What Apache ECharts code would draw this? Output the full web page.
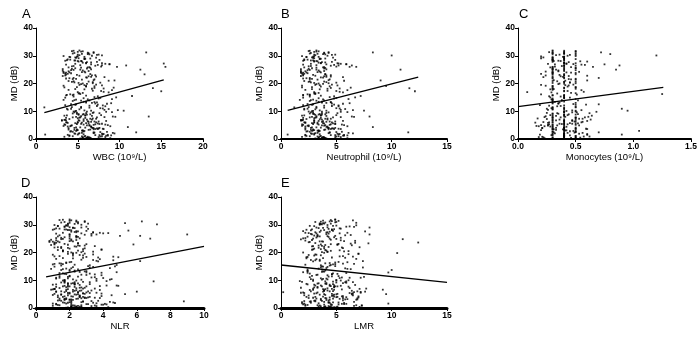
<!DOCTYPE html>
<html>
<head>
<meta charset="utf-8">
<script src="https://cdn.jsdelivr.net/npm/echarts@6/dist/echarts.min.js"></script>
<style>
  html, body { margin: 0; padding: 0; background: #fff; }
  #chart { width: 700px; height: 339px; }
</style>
</head>
<body>
<div id="chart"></div>
<script>
// MD (dB) per patient, shared by all five panels
var md = [
  2.1, 25.4, 7.8, 13.2, 29.6, 4.5, 18.7, 0.9, 22.3, 10.6, 5.7, 27.9, 15.1, 3.3, 31.2, 8.4, 20.5, 1.6, 24.8, 12.0,
  6.2, 28.3, 0.4, 16.9, 9.3, 23.6, 3.9, 30.1, 11.4, 19.8, 2.7, 26.5, 7.1, 14.3, 21.7, 5.0, 29.0, 0.2, 17.6, 9.9,
  25.0, 4.1, 12.8, 31.7, 6.6, 22.9, 1.3, 27.2, 8.8, 15.9, 3.6, 24.1, 10.2, 19.1, 5.4, 28.8, 0.7, 13.7, 26.0, 7.4,
  20.2, 2.4, 30.6, 11.0, 6.9, 23.3, 4.8, 16.2, 29.3, 1.9, 9.6, 25.8, 3.0, 18.3, 12.5, 27.6, 5.9, 21.1, 0.5, 14.8,
  8.1, 31.0, 2.9, 24.5, 10.9, 6.3, 28.1, 17.2, 4.3, 22.0, 1.1, 13.0, 26.9, 7.6, 19.5, 3.4, 30.4, 9.1, 15.5, 5.2,
  27.4, 0.8, 21.4, 11.8, 4.6, 25.2, 8.6, 16.6, 2.2, 29.8, 6.0, 23.0, 13.9, 1.5, 20.9, 9.4, 26.3, 3.8, 18.0, 7.0,
  31.5, 5.5, 14.1, 24.0, 0.3, 10.4, 28.6, 6.8, 22.6, 2.6, 17.9, 4.0, 26.7, 12.2, 8.3, 30.8, 1.8, 19.3, 5.8, 25.6,
  9.0, 3.1, 27.0, 15.7, 7.3, 21.9, 0.6, 12.9, 29.1, 4.9, 23.8, 10.0, 1.4, 18.9, 6.5, 28.4, 3.5, 16.0, 24.3, 8.0,
  2.0, 30.3, 11.6, 5.3, 26.2, 7.9, 20.0, 0.1, 14.6, 22.8, 4.4, 29.5, 9.7, 17.0, 3.2, 25.9, 6.7, 13.4, 1.0, 27.8,
  19.9, 5.1, 23.5, 8.9, 31.9, 2.5, 15.3, 10.8, 28.0, 4.2, 21.2, 0.0, 12.6, 26.4, 6.1, 18.5, 3.7, 24.7, 9.2, 30.0,
  7.5, 1.2, 22.1, 14.0, 4.7, 27.3, 11.2, 2.8, 20.7, 8.5, 31.3, 5.6, 16.4, 0.3, 25.1, 10.3, 3.9, 29.2, 6.4, 19.0,
  13.5, 26.8, 1.7, 9.8, 23.1, 5.0, 30.7, 7.2, 17.4, 2.3, 24.6, 12.3, 0.9, 28.9, 4.0, 21.6, 8.7, 15.0, 6.9, 27.5,
  3.0, 22.5, 10.1, 29.9, 1.6, 18.2, 6.2, 25.3, 11.9, 4.5, 31.1, 8.2, 20.4, 2.1, 14.4, 26.1, 5.7, 23.9, 0.6, 16.8,
  9.5, 28.2, 3.3, 21.0, 7.7, 13.1, 24.9, 1.9, 30.5, 6.6, 19.6, 4.1, 27.1, 11.5, 2.7, 22.4, 8.0, 17.7, 5.3, 25.7,
  0.4, 12.1, 29.4, 6.0, 20.1, 3.6, 26.6, 9.3, 15.8, 1.3, 23.4, 7.8, 31.6, 4.8, 18.6, 10.7, 2.4, 28.5, 5.5, 14.2,
  4.2, 26.9, 1.1, 17.3, 8.6, 23.2, 0.5, 29.7, 12.7, 5.9, 21.5, 3.4, 27.7, 9.6, 15.4, 1.9, 24.2, 7.0, 31.4, 10.5,
  2.6, 19.4, 6.3, 28.7, 0.8, 13.8, 25.5, 4.6, 22.2, 8.4, 30.2, 1.4, 16.1, 7.3, 26.0, 3.1, 20.6, 11.1, 5.1, 28.1,
  0.2, 23.7, 9.0, 14.9, 3.8, 27.3, 6.5, 20.8, 1.7, 30.9, 10.9, 5.4, 25.0, 2.9, 18.1, 8.1, 29.6, 0.9, 13.3, 22.7,
  7.6, 31.8, 4.0, 16.5, 1.2, 24.4, 11.3, 6.0, 28.3, 2.2, 19.2, 9.9, 26.5, 3.5, 14.7, 0.4, 21.8, 5.2, 30.4, 12.4,
  1.5, 25.8, 8.8, 18.4, 4.9, 29.0, 2.0, 22.9, 10.2, 6.8, 27.1, 0.7, 15.6, 3.6, 24.0, 7.8, 31.0, 1.0, 20.3, 5.6
]

// WBC (10^9/L)
var wbc = [
  5.2, 6.1, 4.4, 7.3, 5.8, 6.6, 4.9, 5.5, 8.2, 3.8, 6.0, 5.1, 7.0, 4.6, 13.2, 5.9, 6.8, 1.1, 4.2, 6.4,
  6.3, 4.7, 5.6, 5.0, 7.6, 3.5, 6.9, 7.9, 1.0, 5.4, 4.1, 10.8, 5.7, 6.2, 4.8, 8.6, 6.5, 5.3, 9.1, 4.5,
  12.5, 5.9, 7.1, 4.3, 5.2, 6.7, 4.0, 15.3, 6.1, 3.7, 7.4, 5.5, 10.5, 6.0, 4.9, 5.8, 8.3, 4.4, 15.5, 6.8,
  5.1, 12.0, 6.2, 8.0, 3.4, 13.0, 6.4, 5.3, 7.2, 4.7, 6.9, 3.9, 5.6, 14.0, 4.8, 6.6, 5.0, 9.4, 6.1, 7.7,
  13.5, 4.6, 5.8, 6.3, 4.2, 7.0, 5.4, 15.0, 11.0, 4.5, 5.9, 6.7, 8.8, 3.6, 5.2, 6.5, 7.5, 4.9, 11.5, 5.7,
  6.0, 3.4, 5.5, 8.3, 4.1, 3.2, 7.8, 5.6, 9.2, 5.0, 3.6, 7.1, 6.4, 8.6, 3.9, 6.8, 4.5, 7.5, 4.7, 6.1,
  5.4, 7.9, 3.3, 5.9, 6.0, 9.8, 4.1, 3.1, 6.3, 8.5, 5.8, 4.6, 7.4, 3.5, 6.7, 4.4, 8.1, 7.9, 3.8, 6.5,
  5.7, 4.9, 8.8, 3.6, 7.2, 4.0, 6.4, 9.0, 5.1, 6.1, 3.3, 4.7, 7.6, 6.0, 8.4, 3.7, 6.9, 4.5, 5.8, 9.5,
  4.6, 7.3, 5.4, 3.4, 4.3, 8.2, 5.6, 3.9, 7.5, 5.2, 6.6, 4.1, 9.1, 8.1, 5.0, 6.4, 3.6, 5.7, 7.9, 7.3,
  6.1, 3.5, 3.8, 6.5, 5.2, 7.7, 4.5, 8.7, 5.5, 4.8, 6.9, 3.2, 4.2, 7.1, 5.0, 9.3, 8.0, 5.6, 4.4, 6.7,
  5.0, 8.4, 6.1, 4.6, 3.3, 7.9, 5.4, 4.2, 6.3, 3.7, 6.9, 7.4, 5.1, 8.9, 6.6, 5.8, 3.9, 4.8, 6.2, 7.0,
  6.0, 3.6, 5.7, 8.4, 4.9, 6.4, 5.5, 4.0, 6.8, 7.0, 3.2, 4.7, 7.7, 5.9, 7.6, 4.4, 5.1, 9.6, 3.5, 5.6,
  5.5, 7.2, 4.8, 3.3, 5.0, 8.1, 6.6, 4.3, 7.3, 3.8, 6.2, 5.4, 4.6, 6.9, 9.1, 7.8, 4.7, 3.6, 5.6, 8.7,
  4.9, 3.5, 6.3, 8.7, 5.2, 6.0, 4.5, 7.9, 6.4, 3.1, 7.2, 6.7, 8.3, 4.3, 5.7, 6.6, 4.8, 3.9, 7.1, 5.4,
  6.2, 8.0, 4.7, 3.7, 6.8, 7.1, 5.3, 6.0, 4.4, 9.0, 6.5, 7.3, 5.6, 4.2, 3.4, 5.2, 6.9, 7.6, 5.4, 4.8,
  5.3, 6.6, 4.0, 7.8, 5.9, 3.6, 6.3, 4.9, 8.5, 5.5, 7.0, 3.9, 6.1, 4.6, 7.4, 5.1, 3.3, 6.7, 5.0, 8.2,
  4.4, 5.8, 7.5, 3.8, 6.2, 5.4, 4.7, 8.9, 6.0, 3.4, 5.2, 7.1, 4.1, 6.5, 9.7, 5.6, 4.3, 7.7, 6.9, 5.0,
  6.6, 4.2, 5.1, 3.5, 7.3, 6.0, 5.7, 4.5, 8.0, 6.3, 3.7, 7.6, 5.3, 4.8, 6.7, 9.2, 4.0, 5.8, 7.0, 3.2,
  5.9, 4.5, 6.8, 5.2, 8.6, 3.9, 6.4, 7.2, 4.6, 5.5, 3.3, 6.1, 7.9, 4.9, 5.7, 6.5, 3.6, 8.3, 5.0, 7.4,
  3.8, 6.2, 5.6, 7.0, 4.3, 5.8, 9.4, 3.5, 6.6, 5.1, 4.7, 7.5, 6.0, 8.1, 4.0, 5.3, 6.9, 4.4, 7.7, 6.3
]

// Neutrophil (10^9/L)
var neut = [
  3.1, 3.9, 2.6, 4.5, 3.4, 4.2, 2.8, 3.3, 5.6, 2.1, 3.8, 3.0, 4.4, 2.7, 8.3, 3.6, 4.1, 0.6, 2.4, 3.9,
  3.7, 2.9, 3.4, 3.0, 5.1, 1.9, 4.3, 10.0, 1.2, 3.2, 2.3, 6.4, 3.5, 3.8, 2.8, 5.7, 4.0, 3.1, 6.0, 2.5,
  10.8, 3.6, 4.6, 2.5, 3.0, 4.1, 2.2, 5.2, 3.7, 2.0, 4.8, 3.3, 7.5, 9.5, 2.9, 3.5, 5.4, 2.6, 6.2, 4.2,
  3.0, 11.5, 3.8, 5.3, 1.8, 4.0, 3.9, 3.1, 4.7, 2.8, 4.3, 2.1, 3.4, 11.6, 2.9, 4.0, 3.0, 9.0, 3.7, 5.0,
  8.0, 2.7, 3.5, 3.9, 2.4, 4.4, 3.2, 12.1, 8.3, 2.6, 3.6, 4.1, 5.9, 2.0, 3.1, 4.0, 4.9, 2.9, 7.2, 3.4,
  3.6, 1.9, 3.3, 5.2, 2.5, 1.8, 5.0, 3.4, 6.1, 3.0, 2.2, 4.5, 3.9, 5.7, 2.1, 4.1, 2.7, 4.6, 2.8, 3.7,
  3.2, 4.9, 1.7, 3.6, 3.7, 6.5, 2.4, 1.9, 3.9, 5.5, 3.5, 2.7, 4.8, 2.0, 4.1, 2.6, 5.3, 5.1, 2.2, 4.0,
  3.5, 2.9, 5.9, 2.0, 4.5, 2.3, 3.9, 6.2, 3.0, 3.7, 1.8, 2.8, 4.9, 3.6, 5.6, 2.1, 4.3, 2.6, 3.5, 6.6,
  2.7, 4.6, 3.2, 1.9, 2.5, 5.4, 3.4, 2.2, 4.8, 3.1, 4.1, 2.3, 6.0, 5.3, 3.0, 3.9, 1.9, 3.4, 5.2, 4.6,
  3.8, 2.0, 2.1, 4.0, 3.2, 5.0, 2.6, 5.8, 3.3, 2.8, 4.3, 1.7, 2.4, 4.5, 3.0, 6.3, 5.2, 3.4, 2.6, 4.2,
  3.0, 5.6, 3.8, 2.7, 1.9, 5.1, 3.2, 2.4, 3.9, 2.1, 4.3, 4.7, 3.0, 6.0, 4.1, 3.5, 2.2, 2.9, 3.8, 4.4,
  3.7, 2.0, 3.5, 5.4, 2.9, 4.0, 3.3, 2.3, 4.2, 4.4, 1.8, 2.8, 5.0, 3.6, 4.9, 2.6, 3.1, 6.7, 2.0, 3.4,
  3.3, 4.5, 2.9, 1.9, 3.0, 5.3, 4.1, 2.5, 4.6, 2.2, 3.9, 3.2, 2.7, 4.3, 6.1, 5.0, 2.8, 2.0, 3.4, 5.6,
  2.9, 2.0, 3.9, 5.7, 3.1, 3.7, 2.6, 5.1, 4.0, 1.8, 4.6, 4.2, 5.4, 2.5, 3.4, 4.1, 2.8, 2.2, 4.5, 3.2,
  3.8, 5.2, 2.8, 2.1, 4.3, 4.5, 3.2, 3.7, 2.6, 6.0, 4.0, 4.7, 3.4, 2.4, 1.9, 3.1, 4.4, 4.9, 3.3, 2.9,
  3.2, 4.1, 2.3, 5.0, 3.6, 2.0, 3.9, 2.9, 5.6, 3.3, 4.4, 2.2, 3.7, 2.7, 4.8, 3.0, 1.8, 4.2, 3.0, 5.4,
  2.6, 3.5, 4.9, 2.1, 3.8, 3.2, 2.8, 6.0, 3.6, 1.9, 3.1, 4.5, 2.4, 4.0, 6.8, 3.4, 2.5, 5.0, 4.4, 3.0,
  4.1, 2.4, 3.0, 2.0, 4.7, 3.6, 3.4, 2.6, 5.2, 3.9, 2.1, 4.9, 3.2, 2.8, 4.2, 6.4, 2.3, 3.5, 4.5, 1.8,
  3.6, 2.6, 4.3, 3.1, 5.7, 2.2, 3.9, 4.6, 2.7, 3.3, 1.9, 3.7, 5.2, 2.9, 3.4, 4.0, 2.0, 5.5, 3.0, 4.8,
  2.2, 3.8, 3.4, 4.5, 2.5, 3.5, 6.5, 2.0, 4.1, 3.0, 2.7, 4.9, 3.6, 5.4, 2.3, 3.2, 4.3, 2.6, 5.0, 3.9
]

// Monocytes (10^9/L)
var mono = [
  0.4, 0.3, 0.5, 0.36, 0.4, 0.28, 0.5, 0.4, 0.22, 0.3, 0.45, 0.6, 0.4, 0.33, 0.72, 0.3, 0.4, 0.9, 0.5, 0.27,
  0.3, 0.4, 0.5, 0.08, 0.62, 0.3, 0.4, 1.2, 0.5, 0.35, 0.3, 0.88, 0.4, 0.29, 0.5, 0.2, 0.3, 0.4, 0.55, 0.4,
  0.85, 0.4, 0.3, 0.5, 0.4, 0.24, 0.3, 0.42, 0.5, 0.4, 0.6, 0.3, 0.95, 0.3, 0.38, 0.5, 0.4, 0.3, 0.65, 0.17,
  0.3, 0.7, 0.8, 0.4, 0.3, 0.5, 0.26, 1.25, 0.3, 0.4, 0.47, 0.3, 0.5, 0.4, 0.7, 0.4, 0.3, 0.6, 0.5, 0.4,
  0.4, 0.3, 1.05, 0.4, 0.9, 0.5, 0.31, 0.4, 0.3, 0.7, 0.4, 0.5, 0.75, 0.3, 0.2, 0.4, 0.5, 0.35, 0.4, 0.3,
  0.4, 0.21, 0.5, 0.34, 0.18, 0.3, 0.43, 0.46, 0.56, 0.2, 0.27, 0.4, 0.52, 0.6, 0.3, 0.25, 0.38, 0.5, 0.31, 0.63,
  0.5, 0.36, 0.3, 0.42, 0.23, 0.55, 0.3, 0.47, 0.37, 0.5, 0.28, 0.4, 0.58, 0.19, 0.33, 0.4, 0.6, 0.44, 0.26, 0.5,
  0.3, 0.41, 0.48, 0.3, 0.53, 0.4, 0.22, 0.35, 0.2, 0.34, 0.5, 0.4, 0.29, 0.43, 0.6, 0.3, 0.39, 0.51, 0.24, 0.41,
  0.3, 0.45, 0.5, 0.27, 0.4, 0.23, 0.36, 0.5, 0.3, 0.6, 0.42, 0.3, 0.4, 0.57, 0.2, 0.46, 0.33, 0.32, 0.5, 0.3,
  0.4, 0.26, 0.2, 0.44, 0.3, 0.5, 0.37, 0.3, 0.54, 0.4, 0.31, 0.3, 0.48, 0.5, 0.22, 0.4, 0.59, 0.35, 0.3, 0.43,
  0.5, 0.4, 0.3, 0.38, 0.16, 0.5, 0.3, 0.45, 0.5, 0.4, 0.27, 0.52, 0.34, 0.4, 0.3, 0.47, 0.21, 0.4, 0.4, 0.3,
  0.4, 0.55, 0.3, 0.68, 0.36, 0.3, 0.4, 0.25, 0.4, 0.49, 0.3, 0.5, 0.62, 0.4, 0.33, 0.44, 0.4, 0.28, 0.5, 0.4,
  0.4, 0.3, 0.42, 0.5, 0.19, 0.3, 0.56, 0.4, 0.37, 0.3, 0.4, 0.24, 0.45, 0.4, 0.5, 0.32, 0.4, 0.46, 0.3, 0.29,
  0.4, 0.35, 0.4, 0.41, 0.5, 0.3, 0.4, 0.53, 0.3, 0.4, 0.48, 0.5, 0.26, 0.3, 0.4, 0.39, 0.61, 0.3, 0.43, 0.4,
  0.3, 0.4, 0.22, 0.4, 0.5, 0.3, 0.4, 0.34, 0.3, 0.45, 0.4, 0.58, 0.3, 0.4, 0.5, 0.4, 0.31, 0.4, 0.47, 0.3,
  0.4, 0.32, 0.5, 0.43, 0.28, 0.3, 0.54, 0.4, 0.35, 0.15, 0.46, 0.3, 0.44, 0.51, 0.27, 0.4, 0.53, 0.36, 0.4, 0.26,
  0.3, 0.41, 0.49, 0.3, 0.4, 0.38, 0.5, 0.23, 0.4, 0.64, 0.33, 0.4, 0.2, 0.56, 0.3, 0.42, 0.4, 0.29, 0.5, 0.37,
  0.4, 0.3, 0.52, 0.45, 0.3, 0.4, 0.47, 0.34, 0.4, 0.5, 0.25, 0.4, 0.33, 0.48, 0.5, 0.3, 0.39, 0.57, 0.3, 0.44,
  0.3, 0.4, 0.21, 0.5, 0.4, 0.35, 0.4, 0.55, 0.3, 0.43, 0.24, 0.5, 0.4, 0.31, 0.4, 0.46, 0.3, 0.4, 0.36, 0.59,
  0.4, 0.28, 0.4, 0.3, 0.53, 0.4, 0.32, 0.4, 0.5, 0.3, 0.42, 0.18, 0.4, 0.5, 0.3, 0.37, 0.3, 0.4, 0.45, 0.5
]

// NLR
var nlr = [
  2.0, 2.4, 1.6, 2.9, 1.9, 2.6, 1.4, 2.2, 3.5, 1.2, 2.5, 5.5, 3.1, 1.7, 6.3, 2.3, 2.8, 1.0, 1.5, 2.7,
  2.3, 1.8, 2.1, 6.2, 3.2, 1.1, 2.6, 7.2, 2.0, 2.2, 1.3, 9.0, 2.4, 2.1, 1.9, 5.3, 2.7, 1.9, 3.8, 1.6,
  6.8, 2.2, 3.0, 1.4, 1.8, 5.8, 1.2, 3.4, 2.3, 1.1, 3.0, 2.0, 4.4, 2.6, 1.9, 2.3, 3.6, 1.5, 6.2, 2.7,
  1.9, 8.8, 5.3, 3.3, 1.1, 2.5, 2.4, 1.8, 3.0, 1.7, 7.0, 1.3, 2.0, 4.9, 1.6, 2.5, 6.0, 3.9, 2.1, 3.4,
  4.2, 1.7, 2.2, 2.4, 1.4, 2.7, 2.0, 4.6, 3.9, 1.5, 2.1, 2.6, 4.0, 1.2, 1.9, 2.5, 3.1, 1.7, 4.8, 2.0,
  2.3, 1.0, 2.0, 3.9, 1.9, 1.2, 3.2, 2.1, 4.4, 1.8, 1.5, 3.0, 2.5, 4.1, 1.3, 2.8, 2.0, 2.9, 1.6, 3.5,
  2.4, 3.6, 0.9, 2.2, 2.3, 4.5, 1.4, 1.1, 2.5, 3.7, 2.2, 1.6, 3.3, 1.8, 2.6, 1.5, 4.7, 3.4, 1.2, 2.5,
  2.2, 1.7, 4.3, 1.0, 2.9, 1.3, 2.4, 4.8, 2.0, 2.3, 0.8, 1.7, 3.1, 2.2, 3.8, 1.1, 2.7, 1.5, 2.1, 4.9,
  1.6, 2.3, 2.0, 2.8, 1.4, 3.8, 2.1, 1.8, 3.2, 1.9, 2.6, 1.3, 4.2, 3.6, 1.8, 2.4, 1.0, 2.0, 2.7, 3.0,
  2.4, 1.1, 1.2, 2.5, 2.0, 3.3, 1.5, 4.0, 2.1, 1.7, 2.8, 0.9, 1.4, 2.9, 1.8, 4.6, 3.5, 2.1, 1.5, 2.7,
  1.8, 3.9, 2.4, 1.6, 1.0, 3.4, 1.9, 1.4, 2.5, 1.2, 2.9, 3.0, 1.8, 4.3, 2.6, 2.2, 1.3, 1.7, 2.4, 2.8,
  2.3, 1.2, 2.1, 3.6, 1.7, 2.5, 2.0, 1.4, 2.7, 2.8, 0.9, 1.7, 3.5, 2.2, 3.2, 1.5, 1.9, 4.7, 1.1, 2.1,
  2.0, 2.9, 1.7, 1.1, 1.8, 3.7, 2.6, 1.5, 3.0, 1.3, 2.4, 1.9, 1.6, 2.7, 4.4, 3.3, 1.7, 1.0, 2.1, 3.7,
  1.7, 1.0, 2.4, 3.9, 1.9, 2.3, 1.6, 3.4, 2.5, 0.9, 2.9, 2.6, 3.8, 1.4, 2.1, 2.6, 1.7, 1.2, 2.8, 2.0,
  2.4, 3.5, 1.7, 1.2, 2.7, 2.9, 2.0, 2.3, 1.6, 4.2, 2.5, 3.0, 2.1, 1.5, 1.1, 1.9, 2.8, 3.1, 2.0, 1.8,
  2.1, 2.7, 1.3, 3.4, 2.3, 1.1, 2.6, 1.8, 3.9, 2.2, 2.9, 1.4, 2.4, 1.7, 3.2, 1.9, 0.8, 2.8, 2.0, 3.6,
  1.5, 2.2, 3.3, 1.2, 2.5, 2.0, 1.7, 4.5, 2.3, 1.0, 1.9, 3.0, 1.4, 2.6, 5.0, 2.1, 1.6, 3.5, 2.9, 1.9,
  2.7, 1.4, 1.9, 1.1, 3.1, 2.4, 2.2, 1.6, 3.6, 2.5, 1.2, 3.2, 2.0, 1.7, 2.8, 4.8, 1.3, 2.3, 3.0, 0.9,
  2.3, 1.6, 2.8, 2.0, 4.0, 1.2, 2.5, 3.1, 1.7, 2.1, 1.0, 2.4, 3.6, 1.8, 2.2, 2.7, 1.1, 3.9, 1.9, 3.2,
  1.2, 2.4, 2.1, 3.0, 1.5, 2.2, 4.6, 1.1, 2.7, 1.9, 1.6, 3.3, 2.3, 3.8, 1.3, 2.0, 2.9, 1.4, 3.4, 2.5
]

// LMR
var lmr = [
  4.3, 3.2, 5.1, 3.8, 2.6, 4.7, 5.6, 3.5, 2.9, 4.1, 0.2, 3.6, 4.9, 5.3, 4.4, 3.0, 6.1, 9.7, 11.0, 3.3,
  3.9, 2.8, 4.4, 7.4, 6.5, 12.4, 5.0, 3.7, 4.6, 10.5, 3.1, 8.0, 4.2, 5.8, 3.4, 9.5, 8.0, 4.0, 3.2, 5.4,
  2.9, 4.8, 9.7, 4.5, 9.2, 3.6, 5.2, 4.1, 3.3, 6.6, 4.0, 5.7, 3.7, 2.5, 6.2, 3.4, 4.5, 10.0, 4.9, 3.0,
  4.2, 3.1, 3.8, 5.5, 4.6, 7.9, 3.5, 4.4, 5.9, 2.7, 4.0, 3.3, 6.8, 2.3, 4.7, 7.6, 3.8, 2.9, 5.1, 4.2,
  3.6, 5.0, 4.1, 2.8, 7.2, 3.9, 4.6, 3.1, 5.6, 4.3, 2.4, 3.7, 5.3, 4.8, 7.0, 3.2, 3.9, 5.9, 4.5, 6.4,
  3.5, 6.6, 3.0, 4.2, 2.1, 2.2, 4.7, 5.2, 3.9, 6.8, 6.9, 4.5, 2.4, 5.5, 4.0, 1.9, 6.3, 4.4, 3.8, 7.7,
  3.8, 1.8, 6.0, 3.5, 4.8, 2.7, 5.4, 4.0, 6.4, 3.7, 2.3, 5.1, 2.7, 4.6, 6.7, 4.0, 5.7, 3.1, 7.2, 4.3,
  4.1, 5.8, 2.5, 4.7, 3.3, 7.1, 3.6, 2.0, 4.2, 5.0, 2.6, 6.1, 4.5, 3.0, 2.6, 4.8, 6.9, 5.6, 2.2, 4.4,
  5.2, 3.6, 2.8, 6.5, 5.8, 4.5, 2.0, 4.1, 7.4, 5.1, 4.6, 3.0, 1.7, 3.5, 6.0, 4.2, 5.5, 2.4, 3.3, 4.7,
  3.9, 4.6, 6.7, 3.4, 4.9, 2.1, 4.4, 5.3, 2.7, 7.0, 3.6, 4.2, 5.9, 3.3, 4.7, 6.5, 2.9, 1.8, 5.0, 3.5,
  4.8, 2.2, 3.9, 6.3, 4.0, 3.1, 7.5, 5.6, 4.1, 2.4, 4.6, 3.3, 4.9, 5.0, 2.0, 4.2, 5.9, 6.6, 3.9, 3.6,
  4.0, 4.3, 1.9, 2.9, 5.2, 3.9, 6.8, 6.2, 3.5, 2.6, 4.5, 5.1, 7.3, 3.8, 3.1, 5.6, 2.3, 3.7, 7.1, 4.4,
  4.4, 3.4, 5.0, 4.2, 2.1, 4.6, 6.4, 5.4, 3.2, 2.5, 3.6, 4.8, 5.7, 1.9, 4.1, 3.0, 6.6, 3.8, 4.0, 2.9,
  4.7, 2.3, 3.6, 2.8, 6.1, 3.9, 5.0, 4.4, 3.5, 4.8, 7.0, 3.8, 2.2, 5.2, 4.3, 3.7, 5.4, 6.8, 3.2, 2.4,
  3.9, 4.6, 6.2, 4.4, 3.7, 2.5, 4.1, 5.8, 4.9, 2.0, 3.1, 3.7, 6.5, 4.8, 5.3, 3.6, 2.7, 4.3, 7.2, 3.4,
  5.5, 3.2, 4.6, 2.7, 4.1, 6.3, 3.4, 5.0, 2.4, 7.6, 3.9, 4.7, 2.0, 5.9, 3.6, 4.3, 6.7, 2.9, 5.2, 3.8,
  3.0, 6.1, 4.2, 5.3, 2.2, 3.7, 4.8, 6.5, 2.8, 4.4, 3.5, 5.7, 4.0, 1.8, 3.3, 6.9, 4.5, 2.6, 5.1, 3.9,
  4.6, 2.5, 5.6, 3.8, 7.0, 4.2, 2.9, 5.3, 3.4, 4.9, 6.2, 2.1, 4.4, 3.6, 5.8, 3.1, 4.7, 7.3, 2.4, 4.0,
  3.3, 4.9, 2.3, 6.0, 3.9, 5.4, 4.3, 2.7, 4.6, 6.6, 3.2, 5.0, 2.8, 4.1, 3.6, 7.1, 5.5, 3.0, 4.5, 2.6,
  5.9, 3.5, 4.0, 2.4, 6.4, 3.2, 4.7, 5.1, 2.9, 3.8, 6.0, 4.3, 2.2, 5.6, 3.7, 4.9, 3.1, 6.8, 4.2, 2.0
]

// regression line end points
var fitA = [[1.0, 9.5], [15.3, 21.3]]
var fitB = [[0.6, 10.3], [12.4, 22.3]]
var fitC = [[0.0, 11.7], [1.26, 18.6]]
var fitD = [[0.6, 11.2], [10.0, 22.2]]
var fitE = [[0.0, 15.5], [15.0, 9.2]]

var letters = ['A', 'B', 'C', 'D', 'E']
var xNames = ['WBC (10⁹/L)', 'Neutrophil (10⁹/L)', 'Monocytes (10⁹/L)', 'NLR', 'LMR']
var xMax = [20, 15, 1.5, 10, 15]
var xStep = [5, 5, 0.5, 2, 5]

var font = "'Liberation Sans', Arial, sans-serif"
var grids = [
  { left: 36, top: 28, width: 167, height: 111 },
  { left: 281, top: 28, width: 166, height: 111 },
  { left: 518, top: 28, width: 173, height: 111 },
  { left: 36, top: 197, width: 168, height: 111 },
  { left: 281, top: 197, width: 166, height: 111 }
]
var letterPos = [[22, 8], [281, 8], [519, 8], [21, 177], [281, 177]]
var xVals = [wbc, neut, mono, nlr, lmr]
var fits = [fitA, fitB, fitC, fitD, fitE]

function pairs(xs) {
  return xs.map(function (x, i) { return [x, md[i]] })
}

var xAxis = [], yAxis = [], series = [], titles = []
for (var i = 0; i < 5; i++) {
  xAxis.push({
    gridIndex: i, type: 'value', min: 0, max: xMax[i], interval: xStep[i],
    name: xNames[i], nameLocation: 'middle', nameGap: 13,
    nameTextStyle: { color: '#000', fontSize: 9.5, fontFamily: font },
    axisLine: { lineStyle: { color: '#000', width: i < 3 ? 2 : 3 } },
    axisTick: { show: true, length: 3, lineStyle: { color: '#000' } },
    axisLabel: {
      color: '#000', fontSize: 8.5, fontWeight: 'bold', fontFamily: font, margin: 3,
      formatter: i === 2 ? function (v) { return v.toFixed(1) } : null
    },
    splitLine: { show: false }
  })
  yAxis.push({
    gridIndex: i, type: 'value', min: 0, max: 40, interval: 10,
    name: 'MD (dB)', nameLocation: 'middle', nameGap: 15,
    nameTextStyle: { color: '#000', fontSize: 9.5, fontFamily: font },
    axisLine: { show: true, lineStyle: { color: '#000', width: 1 } },
    axisTick: { show: true, length: 3, lineStyle: { color: '#000' } },
    axisLabel: { color: '#000', fontSize: 8.5, fontWeight: 'bold', fontFamily: font, margin: 3 },
    splitLine: { show: false }
  })
  series.push({
    type: 'scatter', xAxisIndex: i, yAxisIndex: i,
    data: pairs(xVals[i]), symbol: 'rect', symbolSize: 1.8,
    itemStyle: { color: '#000' }, silent: true
  })
  series.push({
    type: 'line', xAxisIndex: i, yAxisIndex: i,
    data: fits[i], showSymbol: false, symbol: 'none',
    lineStyle: { color: '#000', width: 1.3 }, silent: true
  })
  titles.push({
    text: letters[i], left: letterPos[i][0], top: letterPos[i][1], padding: 0,
    textStyle: { color: '#000', fontSize: 13, fontWeight: 'normal', fontFamily: font }
  })
}

var option = {
  backgroundColor: '#fff',
  animation: false,
  title: titles,
  grid: grids,
  xAxis: xAxis,
  yAxis: yAxis,
  series: series
}

var chart = echarts.init(document.getElementById('chart'))
chart.setOption(option)
window.onresize = function () { chart.resize() }
</script>
</body>
</html>
